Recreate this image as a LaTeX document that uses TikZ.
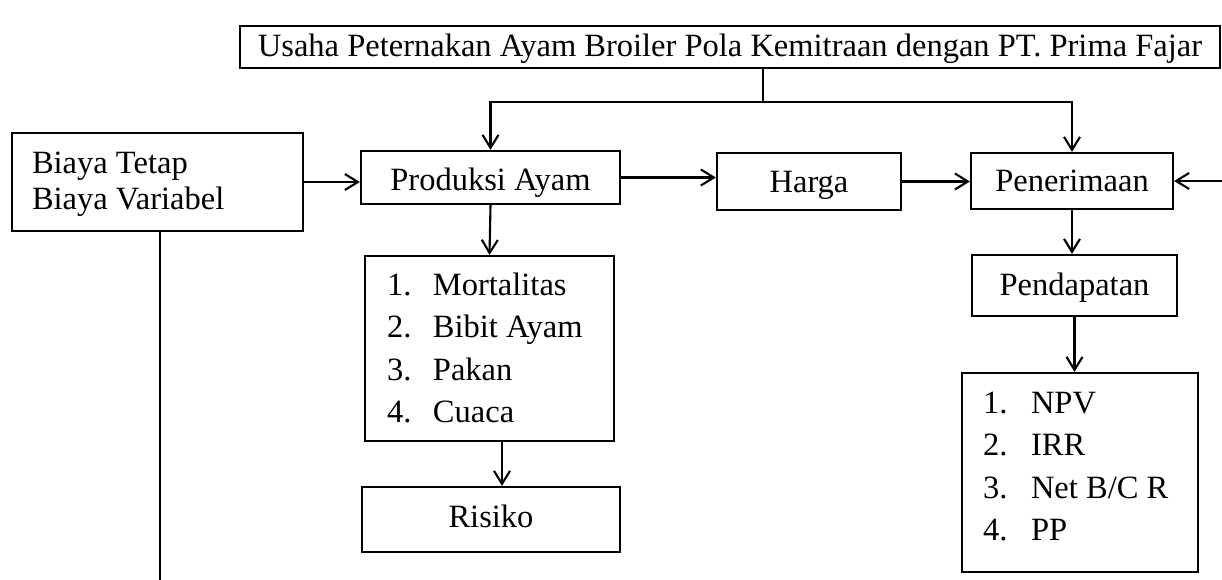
\documentclass[tikz,border=0pt]{standalone}
\usepackage{fontspec}
\setmainfont{Liberation Serif}
\usepackage{tikz}
\usetikzlibrary{arrows.meta, positioning, calc}

\begin{document}
\begin{tikzpicture}[x=0.02cm, y=-0.02cm, line width=1.2pt,
    >={Straight Barb[length=0.26cm, width=0.32cm]},
    kotak/.style={draw, line width=1.3pt, inner sep=0pt,
      text height=0.4cm, text depth=0pt, font=\fontsize{18.5}{21}\selectfont},
    daftar/.style={kotak, align=flush left, inner xsep=0.44cm, text height=0.42cm,
      font=\fontsize{18.5}{24.2}\selectfont}]
      \useasboundingbox (0,0) rectangle (1222,580);

      % top box
      \node[kotak, minimum width=19.6cm, minimum height=0.84cm] (usaha) at (730,47)
        {Usaha Peternakan Ayam Broiler Pola Kemitraan dengan PT. Prima Fajar};

      % cost box
      \node[kotak, align=flush left, text width=5.02cm, inner xsep=0.4cm, minimum height=1.96cm,
        text depth=0.72cm, font=\fontsize{18.5}{20.4}\selectfont] (biaya) at (157.5,182)
        {Biaya Tetap\\Biaya Variabel};

      % main row
      \node[kotak, minimum width=5.18cm, minimum height=1.06cm, text height=0.54cm] (prod) at (490.5,177.5) {Produksi Ayam};
      \node[kotak, minimum width=3.68cm, minimum height=1.14cm, text height=0.45cm] (harga) at (809,181.5) {Harga};
      \node[kotak, minimum width=4.04cm, minimum height=1.12cm, text height=0.44cm] (terima) at (1072,181) {Penerimaan};
      \node[kotak, minimum width=4.1cm, minimum height=1.22cm] (dapat) at (1074.5,285.5) {Pendapatan};

      % factor lists
      \node[daftar, text width=4.1cm, minimum height=3.7cm, text depth=2.56cm] (faktor) at (489.5,348.5)
        {\makebox[0.92cm][l]{1.}Mortalitas\\
         \makebox[0.92cm][l]{2.}Bibit Ayam\\
         \makebox[0.92cm][l]{3.}Pakan\\
         \makebox[0.92cm][l]{4.}Cuaca};
      \node[kotak, minimum width=5.16cm, minimum height=1.3cm, text height=0.3cm] (risiko) at (491,519.5) {Risiko};

      \node[daftar, text width=3.88cm, inner xsep=0.42cm, minimum height=3.98cm, text depth=2.8cm] (kelayakan) at (1080,472.5)
        {\makebox[0.96cm][l]{1.}NPV\\
         \makebox[0.96cm][l]{2.}IRR\\
         \makebox[0.96cm][l]{3.}Net B/C R\\
         \makebox[0.96cm][l]{4.}PP};

      % split from top box
      \coordinate (cabang) at (763,102);
      \draw (cabang |- usaha.south) -- (cabang);
      \draw[->] (cabang) -| (prod.north);
      \draw[->] (cabang) -| (terima.north);

      % horizontal flow
      \draw[->] (biaya.east) -- (biaya.east -| prod.west);
      \draw[->] (prod.east) -- (prod.east -| harga.west);
      \draw[->] (harga.east) -- (harga.east -| terima.west);
      \coordinate (masuk) at (1222,181);
      \draw[->] (masuk) -- (terima.east);

      % vertical flow
      \draw[->] (prod.south) -- (faktor.north);
      \coordinate (turun) at ($(faktor.south)+(12.5,0)$);
      \draw[->] (turun) -- (turun |- risiko.north);
      \draw[->] (terima.south) -- (terima.south |- dapat.north);
      \draw[->] (dapat.south) -- (dapat.south |- kelayakan.north);

      % line leaving the cost box
      \coordinate (bawah) at (160,580);
      \draw (biaya.south -| bawah) -- (bawah);

    \end{tikzpicture}
\end{document}
